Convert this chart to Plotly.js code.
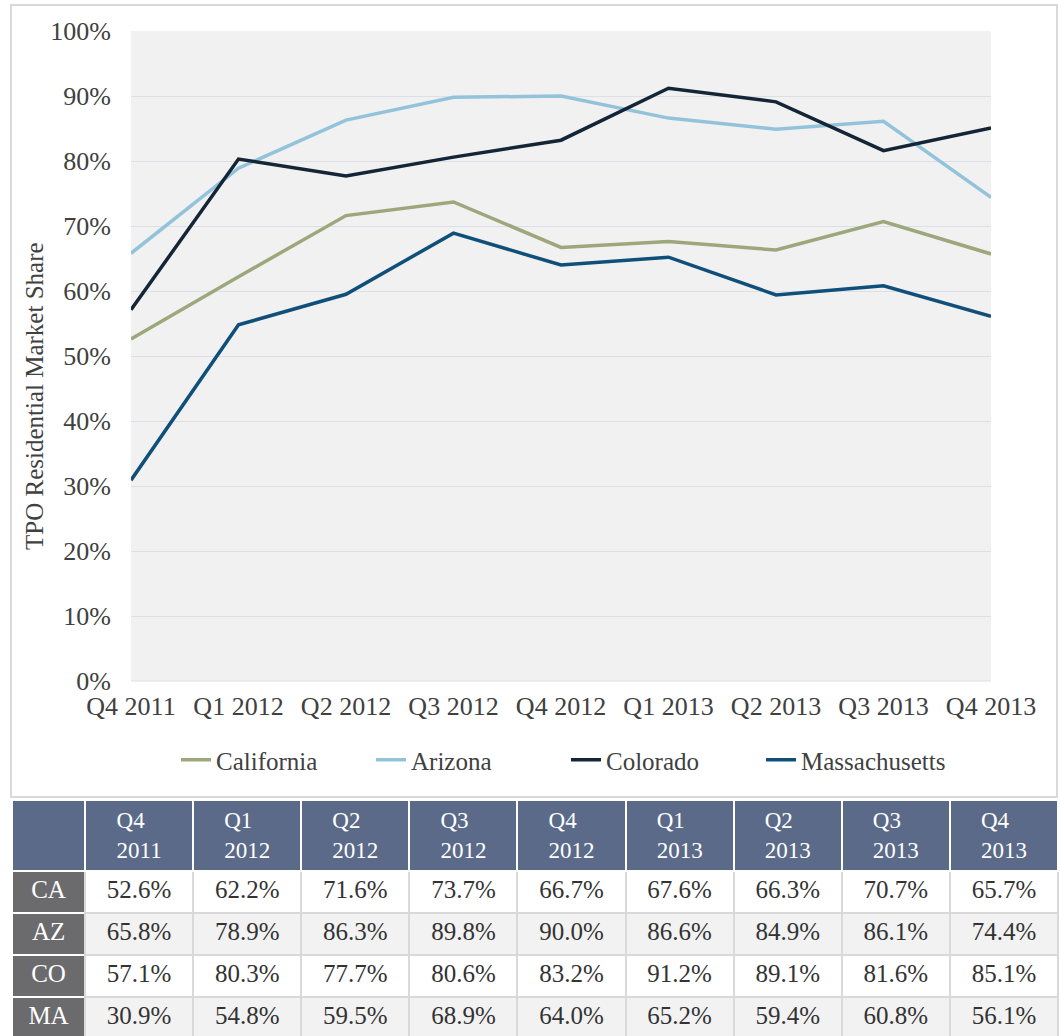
<!DOCTYPE html>
<html>
<head>
<meta charset="utf-8">
<script src="https://cdn.plot.ly/plotly-3.0.1.min.js"></script>
<style>
html,body{margin:0;padding:0;background:#fff;}
#chart{width:1060px;height:1036px;}
</style>
</head>
<body>
<div id="chart"></div>
<script>
const quarters = ["Q4 2011","Q1 2012","Q2 2012","Q3 2012","Q4 2012","Q1 2013","Q2 2013","Q3 2013","Q4 2013"];
const headerLabels = ["Q4<br>2011","Q1<br>2012","Q2<br>2012","Q3<br>2012","Q4<br>2012","Q1<br>2013","Q2<br>2013","Q3<br>2013","Q4<br>2013"];
const seriesNames = ["California","Arizona","Colorado","Massachusetts"];
const rowCodes = ["CA","AZ","CO","MA"];
const california = [52.6, 62.2, 71.6, 73.7, 66.7, 67.6, 66.3, 70.7, 65.7];
const arizona = [65.8, 78.9, 86.3, 89.8, 90.0, 86.6, 84.9, 86.1, 74.4];
const colorado = [57.1, 80.3, 77.7, 80.6, 83.2, 91.2, 89.1, 81.6, 85.1];
const massachusetts = [30.9, 54.8, 59.5, 68.9, 64.0, 65.2, 59.4, 60.8, 56.1];
const colors = ["#9ca77c","#93c3da","#132536","#0f4f79"];

const W = 1060, H = 1036;
const px = v => v / W;
const py = v => 1 - v / H;
const FONT = '"Liberation Serif","Times New Roman",serif';

const allSeries = [california, arizona, colorado, massachusetts];
const traces = allSeries.map((vals, i) => ({
  type: 'scatter', mode: 'lines',
  x: quarters, y: vals.map(v => v / 100),
  name: seriesNames[i],
  line: {color: colors[i], width: 3.5},
  hoverinfo: 'skip'
}));

// table
const nCols = quarters.length;
const cellCols = [rowCodes];
for (let c = 0; c < nCols; c++) {
  cellCols.push(allSeries.map(s => s[c].toFixed(1) + '%'));
}
const rowBg = ["#ffffff","#f2f2f2","#ffffff","#f2f2f2"];
const fillCols = [rowCodes.map(() => "#6b6b6e")];
for (let c = 0; c < nCols; c++) fillCols.push(rowBg);
const fontColorCols = [rowCodes.map(() => "#ffffff")];
for (let c = 0; c < nCols; c++) fontColorCols.push(rowCodes.map(() => "#333333"));

traces.push({
  type: 'table',
  domain: {x: [px(12), px(1058)], y: [0, py(800)]},
  columnwidth: [73].concat(quarters.map(() => 108)),
  header: {
    values: [""].concat(headerLabels),
    fill: {color: "#5a6a88"},
    line: {color: "#ffffff", width: 2},
    font: {family: FONT, size: 23, color: "#ffffff"},
    align: 'center',
    height: 69
  },
  cells: {
    values: cellCols,
    fill: {color: fillCols},
    line: {color: ["#ffffff"].concat(quarters.map(() => "#d9d9d9")), width: 2},
    font: {family: FONT, size: 25, color: fontColorCols},
    align: 'center',
    height: 42
  },
  hoverinfo: 'skip'
});

const layout = {
  width: W, height: H,
  margin: {l: 0, r: 0, t: 0, b: 0},
  paper_bgcolor: '#ffffff',
  plot_bgcolor: '#f1f1f1',
  font: {family: FONT, size: 25, color: '#404040'},
  showlegend: true,
  legend: {
    orientation: 'h', x: px(566), xanchor: 'center', y: py(760), yanchor: 'middle',
    font: {family: FONT, size: 25, color: '#404040'},
    entrywidth: 150, entrywidthmode: 'pixels',
    bgcolor: 'rgba(0,0,0,0)'
  },
  xaxis: {
    domain: [px(131), px(991)],
    type: 'category',
    range: [0, quarters.length - 1],
    showgrid: false, zeroline: false, showline: false,
    ticks: 'outside', ticklen: 2, tickcolor: 'rgba(0,0,0,0)',
    tickfont: {family: FONT, size: 26, color: '#404040'},
    automargin: false, fixedrange: true
  },
  yaxis: {
    domain: [py(681), py(31)],
    range: [0, 1],
    tickvals: [0,0.1,0.2,0.3,0.4,0.5,0.6,0.7,0.8,0.9,1.0],
    tickformat: '.0%',
    showgrid: true, gridcolor: '#dcdfe6', gridwidth: 1,
    zeroline: false, showline: false,
    ticks: 'outside', ticklen: 14, tickcolor: 'rgba(0,0,0,0)',
    tickfont: {family: FONT, size: 26, color: '#404040'},
    automargin: false, fixedrange: true
  },
  shapes: [
    {type: 'rect', xref: 'paper', yref: 'paper', x0: px(11), x1: px(1057), y0: py(797), y1: py(5),
     line: {color: '#d9d9d9', width: 2}, fillcolor: 'rgba(0,0,0,0)', layer: 'below'},
    {type: 'line', xref: 'paper', yref: 'paper', x0: px(131), x1: px(991), y0: py(681), y1: py(681),
     line: {color: '#dcdfe6', width: 1}, layer: 'below'}
  ],
  annotations: [
    {text: 'TPO Residential Market Share', xref: 'paper', yref: 'paper',
     x: px(34), y: py(396), xanchor: 'center', yanchor: 'middle', textangle: -90,
     showarrow: false, font: {family: FONT, size: 25, color: '#404040'}}
  ]
};

Plotly.newPlot('chart', traces, layout, {displayModeBar: false, staticPlot: true});
</script>
</body>
</html>
